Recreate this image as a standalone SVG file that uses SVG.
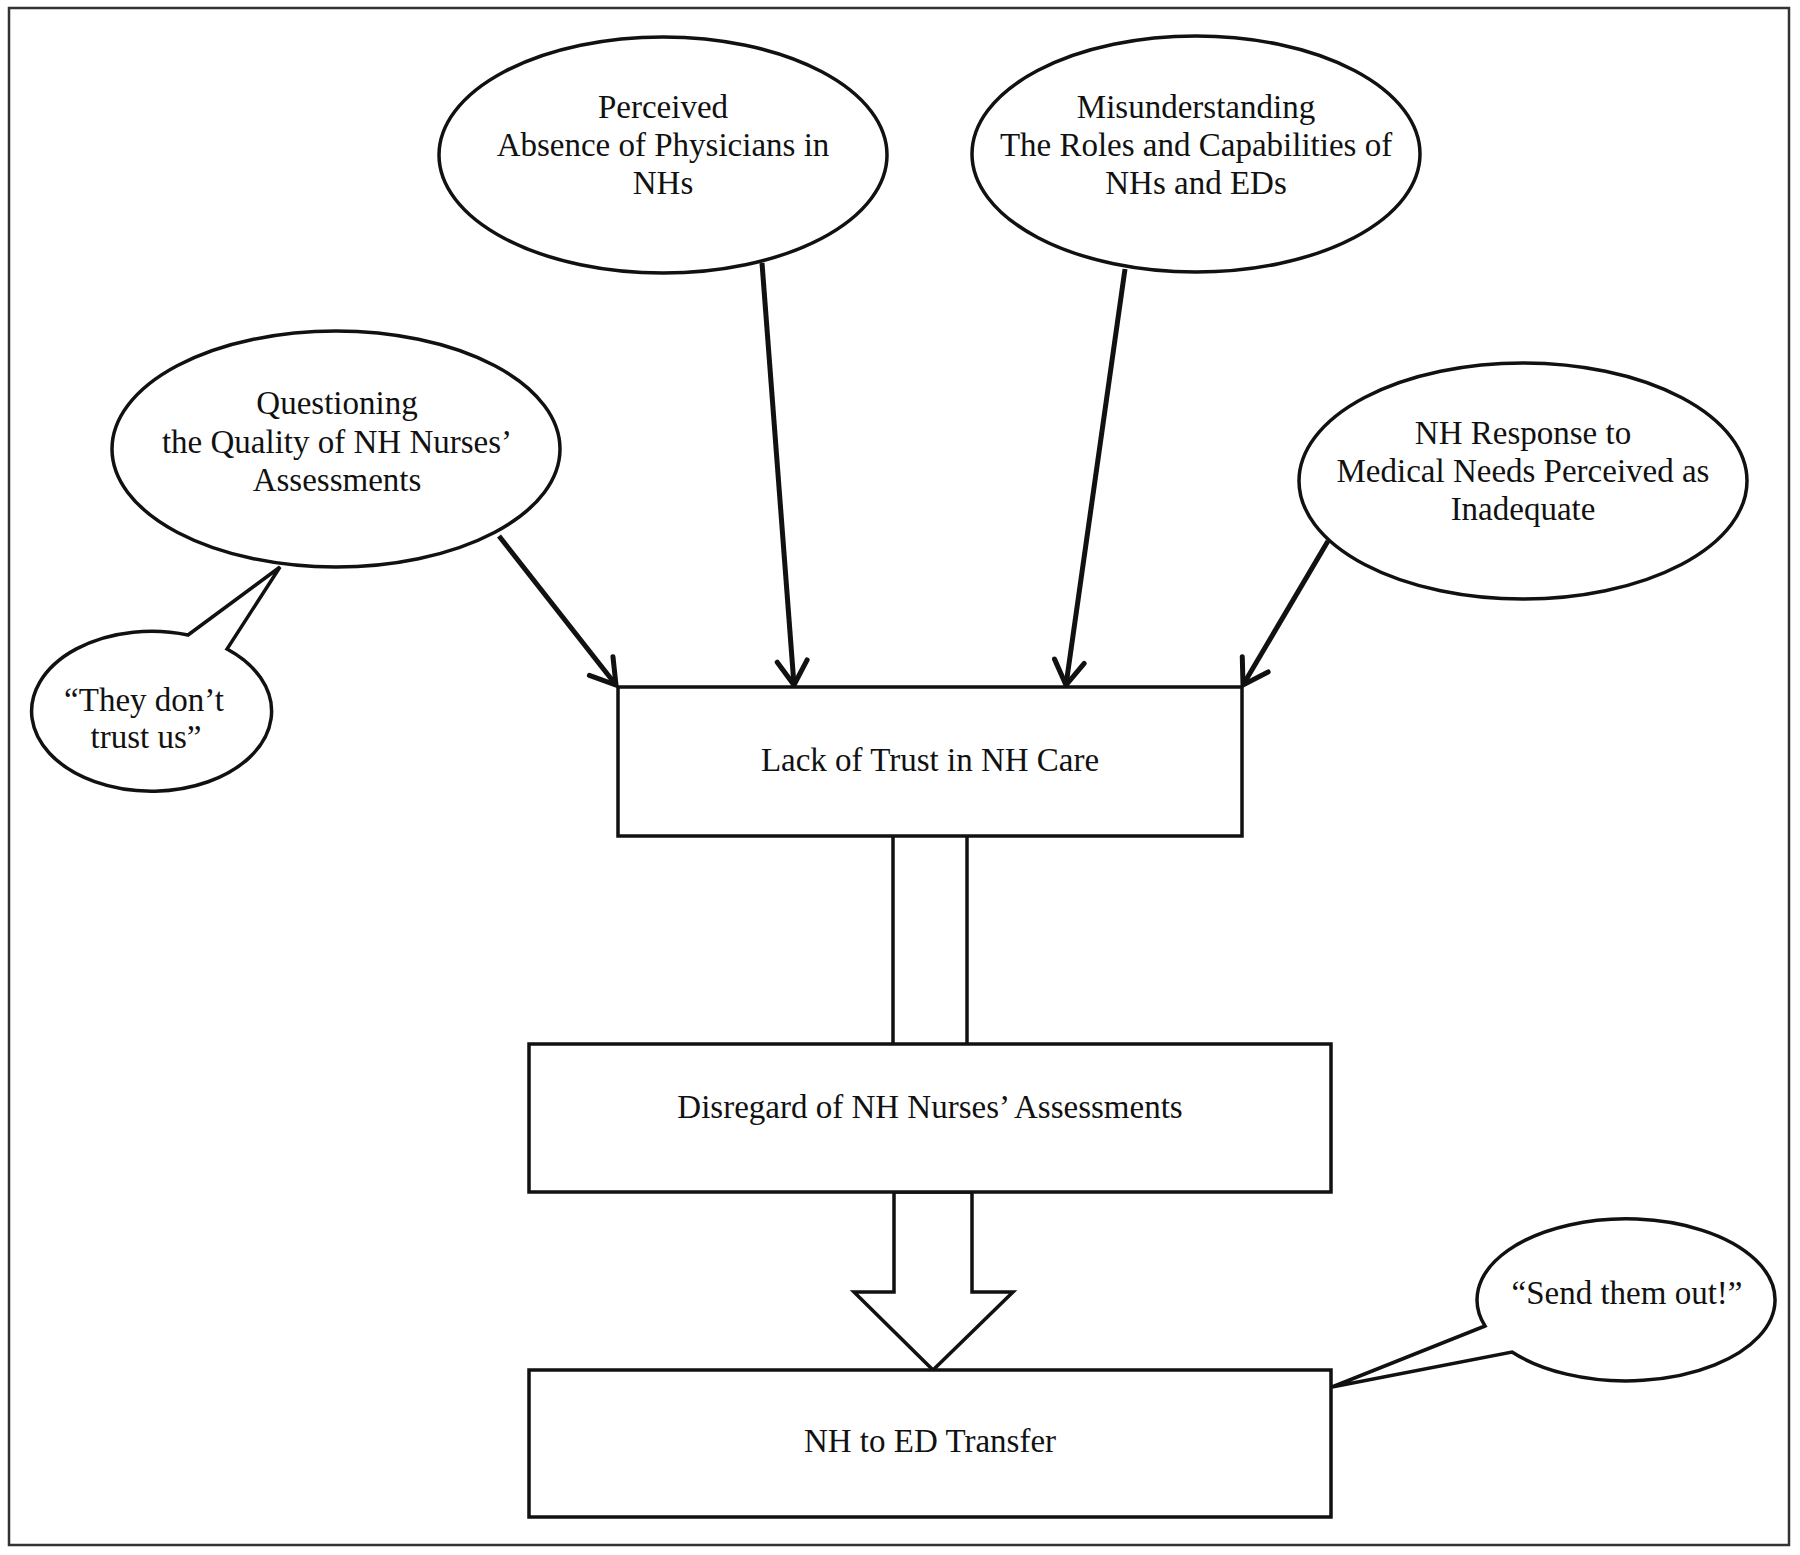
<svg xmlns="http://www.w3.org/2000/svg" width="1800" height="1555" viewBox="0 0 1800 1555">
<style>
  .node { fill: #fff; stroke: #111; stroke-width: 3.5; }
  .txt { font-family: "Liberation Serif", "Times New Roman", serif; font-size: 33px; fill: #111; text-anchor: middle; }
  .arrow { fill: none; stroke: #111; stroke-width: 5; marker-end: url(#vhead); }
  .bar { fill: none; stroke: #111; stroke-width: 3.5; }
</style>
<defs>
  <marker id="vhead" markerUnits="userSpaceOnUse" markerWidth="40" markerHeight="40" viewBox="-30 -20 40 40" refX="0" refY="0" orient="auto">
    <path d="M -24 -15 L 0 0 L -24 15" fill="none" stroke="#111" stroke-width="5" stroke-linejoin="miter" stroke-linecap="round"/>
  </marker>
</defs>
<rect width="1800" height="1555" fill="#fff"/>
<rect id="frame" x="9" y="8" width="1780" height="1537" fill="none" stroke="#333" stroke-width="2.5"/>

<g id="connectors">
  <line class="arrow" x1="499" y1="536" x2="616" y2="685"/>
  <line class="arrow" x1="762" y1="263" x2="794" y2="685"/>
  <line class="arrow" x1="1125" y1="269" x2="1066" y2="685"/>
  <line class="arrow" x1="1328" y1="541" x2="1243" y2="685"/>
  <line class="bar" x1="893" y1="836" x2="893" y2="1044"/>
  <line class="bar" x1="967" y1="836" x2="967" y2="1044"/>
  <polygon class="node" points="894,1192 894,1292 854,1292 933,1370 1013,1292 972,1292 972,1192"/>
</g>

<g id="n-perceived">
  <ellipse class="node" cx="663" cy="155" rx="224" ry="118"/>
  <text class="txt" x="663" y="118">Perceived</text>
  <text class="txt" x="663" y="156">Absence of Physicians in</text>
  <text class="txt" x="663" y="194">NHs</text>
</g>
<g id="n-misunderstanding">
  <ellipse class="node" cx="1196" cy="154" rx="224" ry="118"/>
  <text class="txt" x="1196" y="118">Misunderstanding</text>
  <text class="txt" x="1196" y="156">The Roles and Capabilities of</text>
  <text class="txt" x="1196" y="194">NHs and EDs</text>
</g>
<g id="n-questioning">
  <ellipse class="node" cx="336" cy="449" rx="224" ry="118"/>
  <text class="txt" x="337" y="414">Questioning</text>
  <text class="txt" x="337" y="453">the Quality of NH Nurses’</text>
  <text class="txt" x="337" y="491">Assessments</text>
</g>
<g id="n-response">
  <ellipse class="node" cx="1523" cy="481" rx="224" ry="118"/>
  <text class="txt" x="1523" y="444">NH Response to</text>
  <text class="txt" x="1523" y="482">Medical Needs Perceived as</text>
  <text class="txt" x="1523" y="520">Inadequate</text>
</g>
<g id="n-trustus">
  <path class="node" d="M 188 635 L 280 567 L 227 649 A 120 80 0 1 1 188 635 Z"/>
  <text class="txt" x="144" y="711">“They don’t</text>
  <text class="txt" x="146" y="748">trust us”</text>
</g>
<g id="n-lack">
  <rect class="node" x="618" y="687" width="624" height="149"/>
  <text class="txt" x="930" y="771">Lack of Trust in NH Care</text>
</g>
<g id="n-disregard">
  <rect class="node" x="529" y="1044" width="802" height="148"/>
  <text class="txt" x="930" y="1118">Disregard of NH Nurses’ Assessments</text>
</g>
<g id="n-transfer">
  <rect class="node" x="529" y="1370" width="802" height="147"/>
  <text class="txt" x="930" y="1452">NH to ED Transfer</text>
</g>
<g id="n-sendout">
  <path class="node" d="M 1485 1326 L 1332 1387 L 1512 1352 A 149 81 0 1 0 1485 1326 Z"/>
  <text class="txt" x="1627" y="1304">“Send them out!”</text>
</g>
</svg>
